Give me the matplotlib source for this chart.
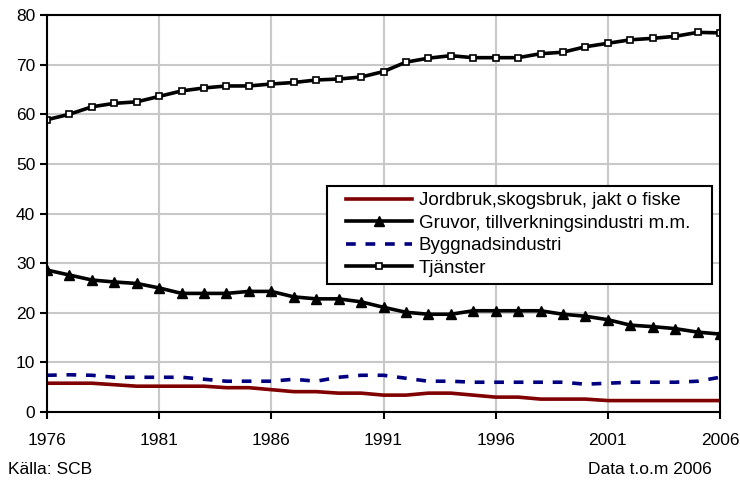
"""
Sysselsatta per näringsgren 1976-2006, andel i procent
"""

import matplotlib.pyplot as plt
from matplotlib.patches import Rectangle

plt.rcParams['font.family'] = ['Liberation Sans', 'DejaVu Sans']

# Data
years = list(range(1976, 2007))
jordbruk = [5.8, 5.8, 5.8, 5.5, 5.2, 5.2, 5.2, 5.2, 4.9, 4.9, 4.5, 4.1, 4.1, 3.8, 3.8, 3.4,
            3.4, 3.8, 3.8, 3.4, 3.0, 3.0, 2.6, 2.6, 2.6, 2.3, 2.3, 2.3, 2.3, 2.3, 2.3]
gruvor = [28.6, 27.6, 26.6, 26.2, 25.9, 25.0, 23.9, 23.9, 23.9, 24.3, 24.3, 23.2, 22.8, 22.8, 22.2, 21.1,
          20.1, 19.7, 19.7, 20.4, 20.4, 20.4, 20.4, 19.7, 19.3, 18.6, 17.5, 17.2, 16.8, 16.1, 15.7]
byggnad = [7.4, 7.5, 7.4, 7.0, 7.0, 7.0, 7.0, 6.6, 6.2, 6.2, 6.2, 6.6, 6.2, 7.0, 7.4, 7.4,
           6.8, 6.2, 6.2, 6.0, 6.0, 6.0, 6.0, 6.0, 5.6, 5.8, 6.0, 6.0, 6.0, 6.2, 7.0]
tjanster = [58.9, 60.0, 61.5, 62.2, 62.5, 63.6, 64.7, 65.3, 65.7, 65.7, 66.1, 66.4, 66.9, 67.1, 67.5, 68.6,
            70.5, 71.3, 71.8, 71.4, 71.4, 71.4, 72.2, 72.5, 73.6, 74.3, 75.0, 75.3, 75.7, 76.5, 76.4]
xticks = [1976, 1981, 1986, 1991, 1996, 2001, 2006]
labels = ['Jordbruk,skogsbruk, jakt o fiske', 'Gruvor, tillverkningsindustri m.m.',
          'Byggnadsindustri', 'Tjänster']

W, H = 740, 488
fig = plt.figure(figsize=(W / 100, H / 100), dpi=100)
ax = fig.add_axes([47 / W, 1 - 412 / H, 673 / W, 397 / H])

ax.plot(years, jordbruk, color='#800000', lw=2.6, label=labels[0])
ax.plot(years, gruvor, color='black', lw=2.6, marker='^', ms=6.5, label=labels[1])
ax.plot(years, byggnad, color='#000080', lw=2.6, ls=(0, (2.7, 2.7)), label=labels[2])
ax.plot(years, tjanster, color='black', lw=2.6, marker='s', ms=5, mfc='white', mew=1.2,
        label=labels[3])

ax.set_xlim(1976, 2006)
ax.set_ylim(0, 80)
ax.set_xticks(xticks)
ax.set_yticks(range(0, 81, 10))
ax.grid(True, color='#c8c8c8', lw=1.5)
ax.set_axisbelow(True)
for s in ax.spines.values():
    s.set_linewidth(1.5)
ax.tick_params(axis='both', labelsize=12.5, width=1.5, length=5, direction='out')
ax.tick_params(axis='x', pad=10)

# legend box drawn separately (uneven padding like the original)
box = Rectangle((327 / W, 1 - 284 / H), 385 / W, 98 / H, transform=fig.transFigure,
                facecolor='white', edgecolor='black', lw=1.5, zorder=4, clip_on=False)
ax.add_artist(box)
leg = ax.legend(loc='upper left', bbox_to_anchor=(346 / W, 1 - 192 / H),
                bbox_transform=fig.transFigure, fontsize=13.5, handlelength=3.5,
                frameon=False, borderpad=0, labelspacing=0.29, handletextpad=0.37,
                borderaxespad=0)
leg.set_zorder(5)

fig.text(8 / W, 1 - 470 / H, 'Källa: SCB', fontsize=12.5, va='center', ha='left')
fig.text(712 / W, 1 - 470 / H, 'Data t.o.m 2006', fontsize=12.5, va='center', ha='right')

plt.savefig('out.png', dpi=100)
